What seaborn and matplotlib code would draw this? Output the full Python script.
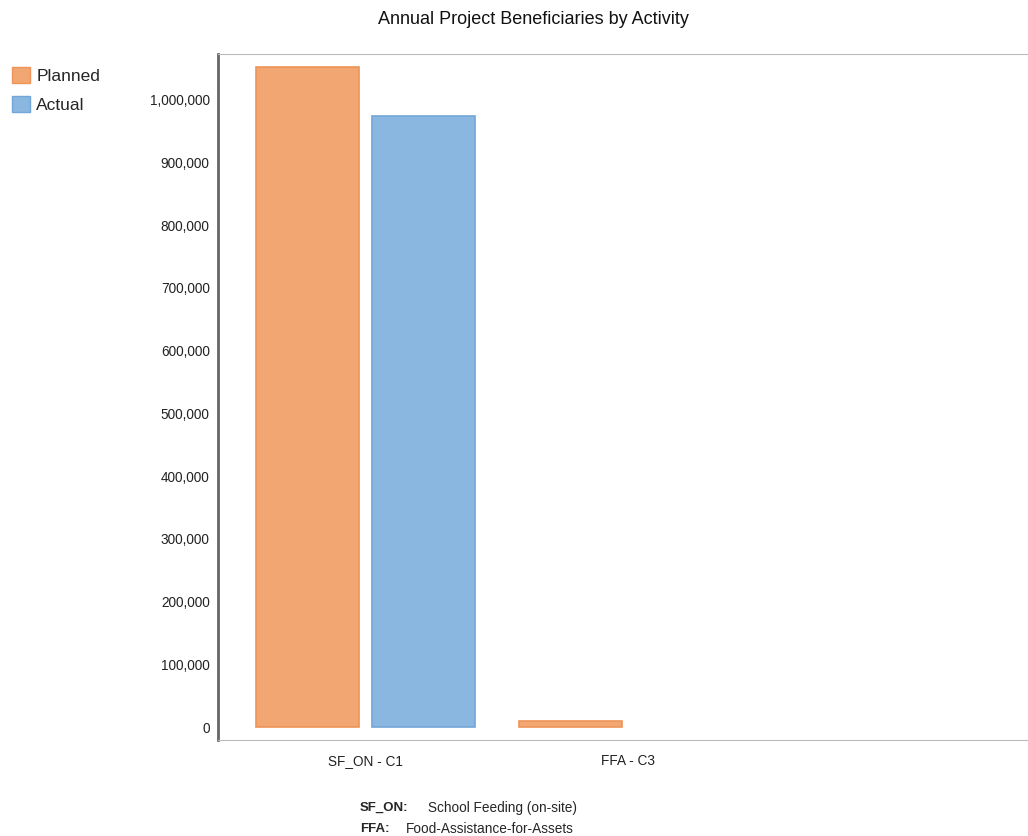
import pandas as pd
import matplotlib.pyplot as plt
import seaborn as sns
from matplotlib.patches import Patch
from matplotlib.ticker import FuncFormatter

# data
activities = ["SF_ON - C1", "FFA - C3"]
planned = [1052000, 9000]
actual = [974500, 0]
series = ["Planned", "Actual"]
colors = {"Planned": "#F2A672", "Actual": "#8AB7E0"}
edges = {"Planned": "#EE9458", "Actual": "#72A5D8"}

df = pd.DataFrame({
    "Activity": activities * 2,
    "Type": ["Planned"] * len(activities) + ["Actual"] * len(activities),
    "Beneficiaries": planned + actual,
})

sns.set_style("white")
plt.rcParams["font.family"] = ["Liberation Sans", "DejaVu Sans"]

fig = plt.figure(figsize=(10.28, 8.36), dpi=100)
ax = fig.add_axes([218 / 1028, 1 - 740 / 836, 1 - 218 / 1028, (740 - 54) / 836])

sns.barplot(data=df, x="Activity", y="Beneficiaries", hue="Type", hue_order=series,
            palette=colors, saturation=1, width=0.88, gap=0.11, ax=ax, legend=False)

# bar outlines, no outline on empty bars
for bar, typ in zip(ax.patches, [t for t in series for _ in activities]):
    bar.set_edgecolor(edges[typ])
    bar.set_linewidth(1.2 if bar.get_height() > 0 else 0)

ax.set_xlim(-0.56, 2.52)
ax.set_ylim(-20700, 1073000)
ax.set_yticks(range(0, 1000001, 100000))
ax.yaxis.set_major_formatter(FuncFormatter(lambda v, p: f"{int(v):,}"))
ax.tick_params(axis="both", length=0, labelsize=9.8, colors="#222222")
ax.tick_params(axis="y", pad=6)
ax.tick_params(axis="x", pad=10)
ax.set_xlabel("")
ax.set_ylabel("")

ax.spines["left"].set_color("#666666")
ax.spines["left"].set_linewidth(2)
ax.spines["bottom"].set_color("#BBBBBB")
ax.spines["top"].set_color("#BBBBBB")
ax.spines["right"].set_visible(False)

fig.text(533 / 1028, 1 - 20 / 836, "Annual Project Beneficiaries by Activity",
         ha="center", va="center", fontsize=13, color="#111111")

handles = [Patch(facecolor=colors[s], edgecolor=edges[s], label=s) for s in series]
fig.legend(handles=handles, loc="upper left", bbox_to_anchor=(0.0, 1 - 55 / 836),
           frameon=False, fontsize=12.5, handlelength=1.0, handleheight=1.0,
           handletextpad=0.4, labelspacing=0.72, borderaxespad=0.3)

fig.text(360 / 1028, 1 - 808 / 836, "SF_ON:", fontsize=9.5, weight="bold", va="center")
fig.text(428 / 1028, 1 - 808 / 836, "School Feeding (on-site)", fontsize=9.8, va="center")
fig.text(360 / 1028, 1 - 829 / 836, "FFA:", fontsize=9.5, weight="bold", va="center")
fig.text(406 / 1028, 1 - 829 / 836, "Food-Assistance-for-Assets", fontsize=9.8, va="center")

plt.savefig("out.png", dpi=100)
plt.close()
